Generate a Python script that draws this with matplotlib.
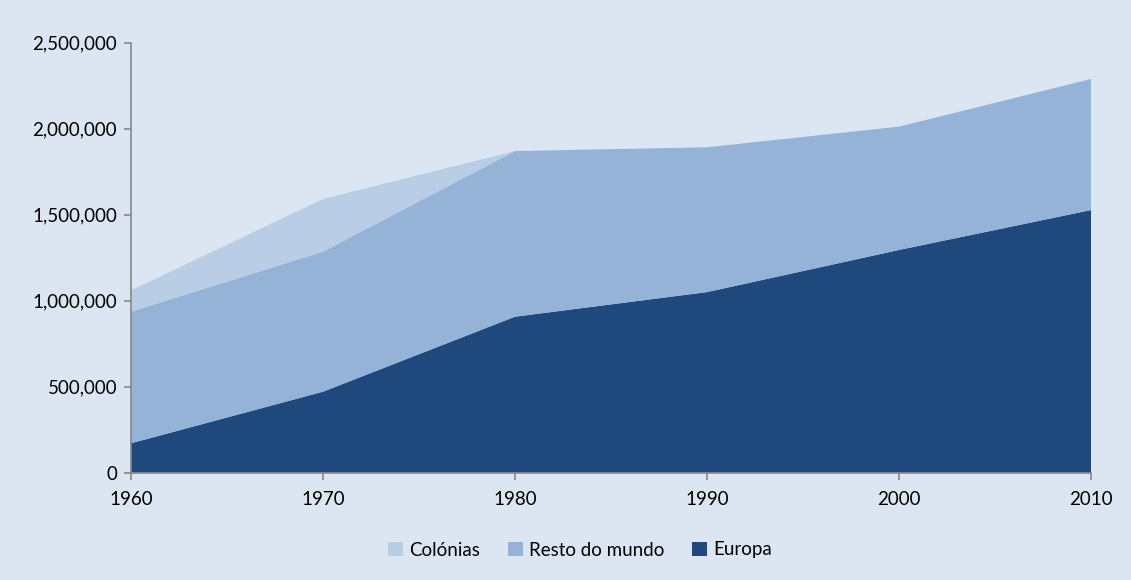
import matplotlib
matplotlib.use("Agg")
import matplotlib.pyplot as plt
from matplotlib.ticker import FuncFormatter
from matplotlib.patches import Patch

years = [1960, 1970, 1980, 1990, 2000, 2010]
europa = [171000, 471000, 907000, 1050000, 1295000, 1527000]
resto = [765000, 814000, 963000, 842000, 717000, 762000]
colonias = [124000, 306000, 0, 0, 0, 0]
series_names = ["Colónias", "Resto do mundo", "Europa"]

bg = "#DCE6F2"
c_eur = "#1F497D"
c_resto = "#95B3D7"
c_col = "#B9CDE5"

plt.rcParams['font.family'] = ['Lato', 'DejaVu Sans']

fig = plt.figure(figsize=(11.31, 5.80), dpi=100, facecolor=bg)
ax = fig.add_axes([131/1131, 1 - 472.7/580, (1091 - 131)/1131, (472.7 - 42.7)/580])
ax.set_facecolor(bg)

ax.stackplot(years, europa, resto, colonias,
             colors=[c_eur, c_resto, c_col], linewidth=0)

ax.set_xlim(1960, 2010)
ax.set_ylim(0, 2500000)
ax.set_xticks(years)
ax.set_yticks([0, 500000, 1000000, 1500000, 2000000, 2500000])
ax.yaxis.set_major_formatter(FuncFormatter(lambda v, p: f"{int(v):,}"))

for s in ["top", "right"]:
    ax.spines[s].set_visible(False)
for s in ["left", "bottom"]:
    ax.spines[s].set_color("#868686")
    ax.spines[s].set_linewidth(1.2)
ax.tick_params(axis="both", colors="#868686", labelcolor="black", labelsize=13.5,
               length=5, width=1.2, direction="out")
ax.tick_params(axis="x", pad=8)
ax.tick_params(axis="y", pad=5)

handles = [Patch(facecolor=c_col, label=series_names[0]),
           Patch(facecolor=c_resto, label=series_names[1]),
           Patch(facecolor=c_eur, label=series_names[2])]
fig.legend(handles=handles, loc="center", bbox_to_anchor=(580/1131, 1 - 550/580),
           ncol=3, frameon=False, fontsize=13.5, handlelength=0.8, handleheight=0.8,
           handletextpad=0.3, columnspacing=1.5)

fig.savefig("out.png", dpi=100, facecolor=bg)
